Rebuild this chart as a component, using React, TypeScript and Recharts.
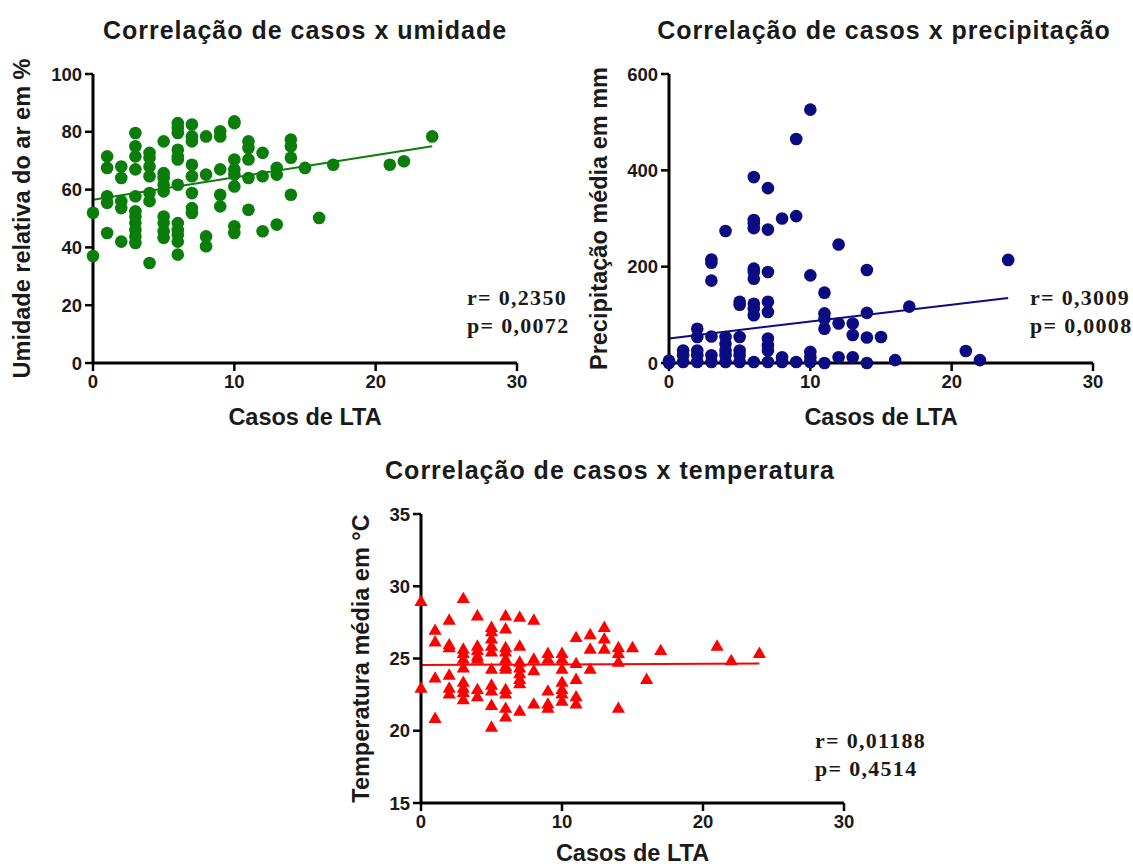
import { ScatterChart, Scatter, XAxis, YAxis, ZAxis, ReferenceLine } from "recharts";

// Casos de LTA x umidade relativa do ar (%)
const humidityPoints: [number, number][] = [
  [0, 52], [0, 37],
  [1, 71.5], [1, 67.5], [1, 57.7], [1, 55.4], [1, 45],
  [2, 68], [2, 64], [2, 56], [2, 53.6], [2, 42],
  [3, 79.6], [3, 75], [3, 71.5], [3, 67], [3, 57.7], [3, 52.5], [3, 50.7], [3, 48.4], [3, 46], [3, 43.8], [3, 41.5],
  [4, 72.7], [4, 71], [4, 68], [4, 64.6], [4, 58.8], [4, 56], [4, 34.6],
  [5, 76.7], [5, 65.7], [5, 64], [5, 61.7], [5, 59.4], [5, 50.7], [5, 48.4], [5, 45.6], [5, 43.3],
  [6, 83], [6, 81.3], [6, 79.6], [6, 73.8], [6, 71.5], [6, 70.4], [6, 61.7], [6, 48.4], [6, 46], [6, 44.4], [6, 42], [6, 37.5],
  [7, 82.5], [7, 78.4], [7, 76.7], [7, 68.6], [7, 64.6], [7, 58.8], [7, 53.6], [7, 51.9],
  [8, 78.4], [8, 65.2], [8, 43.8], [8, 40.4],
  [9, 80.2], [9, 78.4], [9, 67], [9, 58.2], [9, 54.2],
  [10, 83.6], [10, 83], [10, 70.4], [10, 67], [10, 65.2], [10, 61.1], [10, 47.3], [10, 45],
  [11, 76.7], [11, 74.4], [11, 70.4], [11, 64], [11, 53],
  [12, 72.7], [12, 64.6], [12, 45.6],
  [13, 67.5], [13, 65.2], [13, 47.9],
  [14, 77.3], [14, 75], [14, 71], [14, 58.2],
  [15, 67.5], [16, 50.2], [17, 68.6], [21, 68.6], [22, 69.8], [24, 78.4],
];
const humidityFit = [{ x: 0, y: 56.5 }, { x: 24, y: 75 }];

// Casos de LTA x precipitação média (mm)
const rainPoints: [number, number][] = [
  [0, 0], [0, 5],
  [1, 26], [1, 16], [1, 2],
  [2, 71], [2, 54], [2, 26], [2, 16], [2, 2],
  [3, 215], [3, 208], [3, 171], [3, 55], [3, 16], [3, 2],
  [4, 274], [4, 54], [4, 40], [4, 26], [4, 16], [4, 2],
  [5, 127], [5, 121], [5, 54], [5, 26], [5, 16], [5, 2],
  [6, 386], [6, 297], [6, 290], [6, 280], [6, 196], [6, 189], [6, 175], [6, 123], [6, 113], [6, 99], [6, 2],
  [7, 363], [7, 277], [7, 189], [7, 127], [7, 106], [7, 51], [7, 37], [7, 26], [7, 2],
  [8, 300], [8, 12], [8, 2],
  [9, 465], [9, 305], [9, 2],
  [10, 526], [10, 182], [10, 23], [10, 12], [10, 2],
  [11, 146], [11, 103], [11, 92], [11, 71], [11, 0],
  [12, 246], [12, 82], [12, 12],
  [13, 82], [13, 58], [13, 12],
  [14, 193], [14, 104], [14, 53], [14, 0],
  [15, 54], [16, 6], [17, 117], [21, 25], [22, 6], [24, 214],
];
const rainFit = [{ x: 0, y: 51 }, { x: 24, y: 135 }];

// Casos de LTA x temperatura média (°C)
const tempPoints: [number, number][] = [
  [0, 28.9], [0, 22.9],
  [1, 26.9], [1, 26.1], [1, 23.6], [1, 20.8],
  [2, 27.6], [2, 25.9], [2, 25.7], [2, 23.8], [2, 22.9], [2, 22.5],
  [3, 29.1], [3, 25.6], [3, 25.3], [3, 24.9], [3, 24.3], [3, 23.3], [3, 22.9], [3, 22.6], [3, 22.1],
  [4, 27.9], [4, 25.8], [4, 25.5], [4, 25.1], [4, 24.9], [4, 22.8], [4, 22.3],
  [5, 27.1], [5, 26.8], [5, 26.3], [5, 25.8], [5, 25.4], [5, 24.2], [5, 23.1], [5, 22.7], [5, 21.7], [5, 20.2],
  [6, 27.9], [6, 27], [6, 25.7], [6, 25.4], [6, 24.9], [6, 24.4], [6, 24.2], [6, 22.8], [6, 22.5], [6, 21.5], [6, 20.9],
  [7, 27.8], [7, 25.8], [7, 24.7], [7, 24.3], [7, 23.9], [7, 23.5], [7, 23.2], [7, 21.3],
  [8, 27.6], [8, 24.9], [8, 24.1], [8, 21.8],
  [9, 25.3], [9, 24.9], [9, 22.7], [9, 21.8], [9, 21.5],
  [10, 25.3], [10, 24.9], [10, 24.2], [10, 23.3], [10, 22.8], [10, 22.5], [10, 22],
  [11, 26.4], [11, 24.6], [11, 23.5], [11, 22.3], [11, 21.8],
  [12, 26.6], [12, 25.6], [12, 24.2],
  [13, 27.1], [13, 26.3], [13, 25.6],
  [14, 25.7], [14, 25.3], [14, 24.7], [14, 21.5],
  [15, 25.7], [16, 23.5], [17, 25.5], [21, 25.8], [22, 24.8], [24, 25.3],
];
const tempFit = [{ x: 0, y: 24.55 }, { x: 24, y: 24.65 }];

const xTicks = [0, 10, 20, 30];
const humidityTicks = [0, 20, 40, 60, 80, 100];
const rainTicks = [0, 200, 400, 600];
const tempTicks = [15, 20, 25, 30, 35];

const SANS = '"Liberation Sans", Arial, sans-serif';
const SERIF = '"Liberation Serif", "Times New Roman", serif';
const INK = "#1a1a1a";

type PanelProps = {
  left: number;
  top: number;
  width: number;
  height: number;
  xAxisHeight: number;
  yAxisWidth: number;
  rightPad: number;
  yLabelOffset: number;
  points: [number, number][];
  fit: { x: number; y: number }[];
  color: string;
  shape: "circle" | "triangle";
  dotArea: number;
  yDomain: [number, number];
  yTicks: number[];
  yLabel: string;
};

function Panel(p: PanelProps) {
  const data = p.points.map(([x, y]) => ({ x, y }));
  const tick = { fontSize: 18.5, fontWeight: 700, fill: INK, fontFamily: SANS };
  const labelStyle = { fontSize: 23.5, fontWeight: 700, fill: INK, fontFamily: SANS };
  return (
    <div style={{ position: "absolute", left: p.left, top: p.top }}>
      <ScatterChart
        width={p.width}
        height={p.height}
        margin={{ top: 74, right: p.rightPad, bottom: p.height - 74 - 289 - p.xAxisHeight, left: 0 }}
      >
        <XAxis
          type="number"
          dataKey="x"
          domain={[0, 30]}
          ticks={xTicks}
          height={p.xAxisHeight}
          tickSize={8}
          tickMargin={4}
          axisLine={{ stroke: "#000", strokeWidth: 3 }}
          tickLine={{ stroke: "#000", strokeWidth: 2.5 }}
          tick={tick}
          label={{ value: "Casos de LTA", position: "insideBottom", offset: 0, style: labelStyle }}
        />
        <YAxis
          type="number"
          dataKey="y"
          domain={p.yDomain}
          ticks={p.yTicks}
          width={p.yAxisWidth}
          tickSize={8}
          tickMargin={3}
          axisLine={{ stroke: "#000", strokeWidth: 3 }}
          tickLine={{ stroke: "#000", strokeWidth: 2.5 }}
          tick={tick}
          label={{
            value: p.yLabel,
            angle: -90,
            position: "insideLeft",
            offset: p.yLabelOffset,
            style: { ...labelStyle, textAnchor: "middle" },
          }}
        />
        <ZAxis range={[p.dotArea, p.dotArea]} />
        <Scatter data={data} fill={p.color} shape={p.shape} isAnimationActive={false} />
        <ReferenceLine segment={p.fit} stroke={p.color} strokeWidth={2} ifOverflow="extendDomain" />
      </ScatterChart>
    </div>
  );
}

function Title({ text, cx, cy }: { text: string; cx: number; cy: number }) {
  return (
    <div
      style={{
        position: "absolute",
        left: cx - 300,
        top: cy - 16,
        width: 600,
        textAlign: "center",
        fontFamily: SANS,
        fontWeight: 700,
        fontSize: 25,
        letterSpacing: 1,
        lineHeight: "32px",
        color: INK,
      }}
    >
      {text}
    </div>
  );
}

function Stats({ r, p, x, y }: { r: string; p: string; x: number; y: number }) {
  return (
    <div
      style={{
        position: "absolute",
        left: x,
        top: y,
        fontFamily: SERIF,
        fontWeight: 700,
        fontSize: 22,
        letterSpacing: 1.3,
        lineHeight: "28px",
        color: INK,
        whiteSpace: "pre",
      }}
    >
      <div>{r}</div>
      <div>{p}</div>
    </div>
  );
}

export default function App() {
  return (
    <div
      style={{
        position: "absolute",
        left: 0,
        top: 0,
        width: 1133,
        height: 866,
        background: "#fff",
        overflow: "hidden",
      }}
    >
      <Title text="Correlação de casos x umidade" cx={305} cy={30} />
      <Title text="Correlação de casos x precipitação" cx={884} cy={30} />
      <Title text="Correlação de casos x temperatura" cx={610} cy={470} />

      <Panel
        left={0}
        top={0}
        width={560}
        height={440}
        xAxisHeight={62}
        yAxisWidth={93}
        rightPad={43}
        yLabelOffset={22}
        points={humidityPoints}
        fit={humidityFit}
        color="#0b7d0b"
        shape="circle"
        dotArea={125}
        yDomain={[0, 100]}
        yTicks={humidityTicks}
        yLabel="Umidade relativa do ar em %"
      />
      <Panel
        left={575}
        top={0}
        width={558}
        height={440}
        xAxisHeight={62}
        yAxisWidth={94}
        rightPad={40}
        yLabelOffset={24}
        points={rainPoints}
        fit={rainFit}
        color="#0c0c82"
        shape="circle"
        dotArea={125}
        yDomain={[0, 600]}
        yTicks={rainTicks}
        yLabel="Precipitação média em mm"
      />
      <Panel
        left={330}
        top={440}
        width={560}
        height={426}
        xAxisHeight={58}
        yAxisWidth={91}
        rightPad={46}
        yLabelOffset={31}
        points={tempPoints}
        fit={tempFit}
        color="#ff0000"
        shape="triangle"
        dotArea={75}
        yDomain={[15, 35]}
        yTicks={tempTicks}
        yLabel="Temperatura média em °C"
      />

      <Stats r="r= 0,2350" p="p= 0,0072" x={467} y={284} />
      <Stats r="r= 0,3009" p="p= 0,0008" x={1030} y={284} />
      <Stats r="r= 0,01188" p="p= 0,4514" x={815} y={727} />
    </div>
  );
}
